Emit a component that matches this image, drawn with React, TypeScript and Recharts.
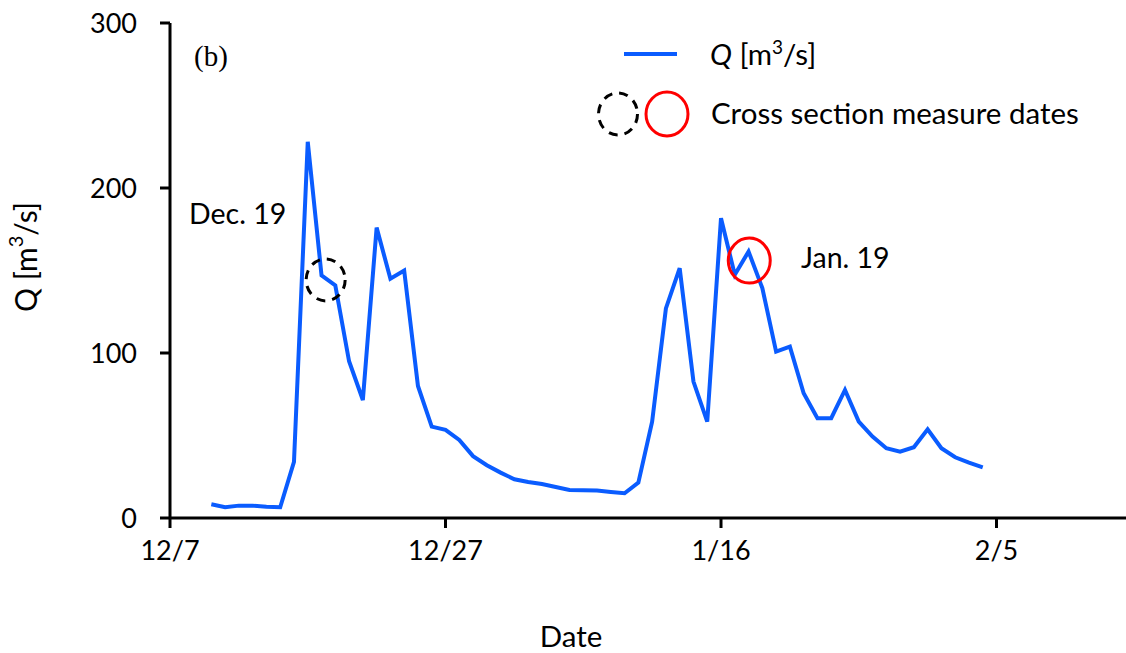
import { Label, Line, LineChart, ReferenceDot, XAxis, YAxis } from "recharts";

// days counted from 12/7
const days = [
  3, 4, 5, 6, 7, 8, 9, 10, 11, 12, 13, 14, 15, 16, 17, 18, 19, 20, 21, 22, 23, 24, 25, 26, 27, 28, 29, 30, 31,
  32, 33, 34, 35, 36, 37, 38, 39, 40, 41, 42, 43, 44, 45, 46, 47, 48, 49, 50, 51, 52, 53, 54, 55, 56, 57, 58, 59
];
const flow = [
  8.3, 6.5, 7.5, 7.5, 6.8, 6.5, 34, 228, 147, 141, 95, 71.5, 176, 145, 150, 80, 55.4, 53.4, 47.3, 37.5, 32, 27.5,
  23.5, 21.8, 20.6, 18.8, 17, 16.8, 16.6, 15.8, 15, 21.4, 58.4, 127, 151.4, 82.7, 58.4, 181.7, 147.4, 161.5, 139.3,
  100.8, 103.9, 75.6, 60.5, 60.5, 77.6, 58.4, 49.3, 42.3, 40.2, 42.9, 53.8, 42.3, 36.8, 33.5, 30.7
];
const xTickDays = [0, 20, 40, 60];
const xTickLabels = ["12/7", "12/27", "1/16", "2/5"];
const yTicks = [0, 100, 200, 300];

// cross section measure dates (day, Q)
const measureDec = { day: 11.3, q: 144.3 };
const measureJan = { day: 42.05, q: 156 };

const data = days.map((d, i) => ({ day: d, q: flow[i] }));

const FONT = "Lato, 'Open Sans', sans-serif";
const BLUE = "#0a5cff";

const tickStyle = { fill: "#000", fontSize: 27, fontFamily: FONT };
const axisStroke = { stroke: "#000", strokeWidth: 3 };

export default function App() {
  return (
    <div style={{ position: "absolute", left: 0, top: 0, width: 1126, height: 653, background: "#fff" }}>
      <LineChart width={1126} height={653} data={data} margin={{ top: 23, right: 0, bottom: 0, left: 0 }}>
        <XAxis
          type="number"
          dataKey="day"
          domain={[0, 69.4]}
          ticks={xTickDays}
          tickFormatter={(v) => xTickLabels[xTickDays.indexOf(v)] ?? ""}
          allowDataOverflow
          height={135}
          tickSize={10}
          tickMargin={13}
          tick={tickStyle}
          axisLine={axisStroke}
          tickLine={axisStroke}
        >
          <Label
            content={() => (
              <text x={571} y={635} textAnchor="middle" dominantBaseline="central" fontSize={29.5} fontFamily={FONT}>
                Date
              </text>
            )}
          />
        </XAxis>
        <YAxis
          domain={[0, 300]}
          ticks={yTicks}
          width={170}
          tickSize={10}
          tickMargin={23}
          tick={tickStyle}
          axisLine={axisStroke}
          tickLine={axisStroke}
        >
          <Label
            content={() => (
              <text
                x={25}
                y={257}
                transform="rotate(-90 25 257)"
                textAnchor="middle"
                dominantBaseline="central"
                fontSize={30}
                fontFamily={FONT}
              >
                Q [m
                <tspan dy={-10} fontSize={20}>
                  3
                </tspan>
                <tspan dy={10}>/s]</tspan>
              </text>
            )}
          />
        </YAxis>
        <Line type="linear" dataKey="q" stroke={BLUE} strokeWidth={4} dot={false} isAnimationActive={false} />
        <ReferenceDot
          x={measureDec.day}
          y={measureDec.q}
          shape={(p: any) => (
            <ellipse cx={p.cx} cy={p.cy} rx={19.5} ry={21} fill="none" stroke="#000" strokeWidth={3} strokeDasharray="9 7" />
          )}
        />
        <ReferenceDot
          x={measureJan.day}
          y={measureJan.q}
          shape={(p: any) => <ellipse cx={p.cx} cy={p.cy} rx={21} ry={22.5} fill="none" stroke="#ff0000" strokeWidth={3} />}
        />
      </LineChart>

      {/* panel tag and annotations */}
      <div style={{ position: "absolute", left: 194, top: 40, fontFamily: "'Liberation Serif', serif", fontSize: 29 }}>(b)</div>
      <div style={{ position: "absolute", left: 189, top: 196, fontFamily: FONT, fontSize: 28.5, whiteSpace: "nowrap" }}>Dec. 19</div>
      <div style={{ position: "absolute", left: 801, top: 240, fontFamily: FONT, fontSize: 28.5, whiteSpace: "nowrap" }}>Jan. 19</div>

      {/* legend */}
      <div style={{ position: "absolute", left: 0, top: 0, fontFamily: FONT, fontSize: 29.5 }}>
        <svg style={{ position: "absolute", left: 590, top: 30 }} width={110} height={110}>
          <line x1={34} y1={24} x2={87} y2={24} stroke={BLUE} strokeWidth={4} />
          <ellipse cx={28} cy={84} rx={19.5} ry={21} fill="none" stroke="#000" strokeWidth={3} strokeDasharray="9 7" />
          <ellipse cx={77} cy={84} rx={21} ry={22} fill="none" stroke="#ff0000" strokeWidth={3} />
        </svg>
        <div style={{ position: "absolute", left: 710, top: 35, whiteSpace: "nowrap" }}>
          <i style={{ fontStyle: "italic" }}>Q</i> [m<sup style={{ fontSize: 19 }}>3</sup>/s]
        </div>
        <div style={{ position: "absolute", left: 711, top: 95, whiteSpace: "nowrap" }}>Cross section measure dates</div>
      </div>
    </div>
  );
}
